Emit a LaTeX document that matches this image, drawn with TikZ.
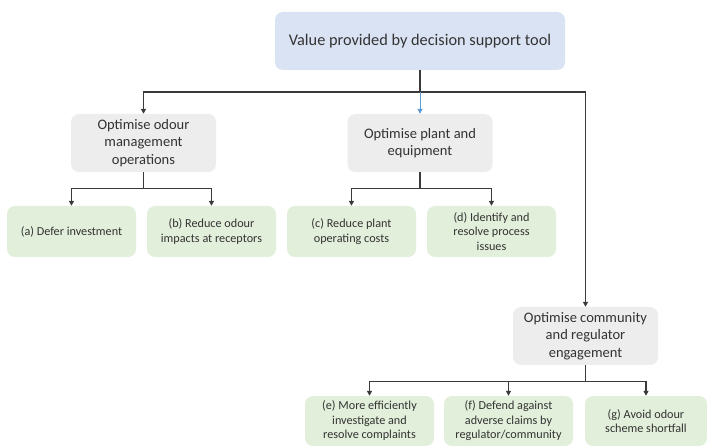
\documentclass[tikz,border=0pt]{standalone}
\usepackage{fontspec}
\setmainfont{Carlito}
\usetikzlibrary{arrows.meta,calc}
\definecolor{topblue}{HTML}{DAE3F3}
\definecolor{greybox}{HTML}{EDEDED}
\definecolor{greenbox}{HTML}{E2EFDA}
\definecolor{linec}{HTML}{3A3A3A}
\definecolor{bluearrow}{HTML}{5B9BD5}
\definecolor{txt}{HTML}{333333}
\begin{document}
\begin{tikzpicture}[x=1pt,y=-1pt,
  box/.style={rounded corners=8pt, align=center, inner sep=0pt, text=txt},
  topbox/.style={box, fill=topblue, minimum width=290pt, minimum height=58pt, font=\fontsize{16.3}{19}\selectfont},
  midbox/.style={box, fill=greybox, minimum width=145pt, minimum height=58pt, font=\fontsize{14.5}{17.5}\selectfont},
  leafbox/.style={box, fill=greenbox, minimum width=129pt, minimum height=51pt, font=\fontsize{12.2}{14.5}\selectfont},
  conn/.style={draw=linec, line width=1.3pt},
  arr/.style={conn, -{Triangle[length=5pt,width=5pt]}}]
\useasboundingbox[fill=white] (0,0) rectangle (707,446);

\node[topbox] (top) at (420,41) {Value provided by decision support tool};

\node[midbox] (od) at (143.5,143) {Optimise odour\\management\\operations};
\node[midbox] (pl) at (420,143) {Optimise plant and\\equipment};
\node[midbox] (cm) at (585.5,336) {Optimise community\\and regulator\\engagement};

\node[leafbox] (a) at (71.5,231.5) {(a) Defer investment};
\node[leafbox] (b) at (211.5,231.5) {(b) Reduce odour\\impacts at receptors};
\node[leafbox] (c) at (351.5,231.5) {(c) Reduce plant\\operating costs};
\node[leafbox] (d) at (491.5,231.5) {(d) Identify and\\resolve process\\issues};

\node[leafbox, minimum height=50pt] (e) at (369.5,421) {(e) More efficiently\\investigate and\\resolve complaints};
\node[leafbox, minimum height=50pt] (f) at (508.5,421) {(f) Defend against\\adverse claims by\\regulator/community};
\node[leafbox, minimum height=50pt, minimum width=122pt] (g) at (646,421) {(g) Avoid odour\\scheme shortfall};

% top level connectors
\coordinate (tj) at (420,92);
\draw[conn] (top.south) -- (tj);
\draw[arr] (tj) -| (od.north);
\draw[arr] (tj) -| (cm.north);
\draw[arr, draw=bluearrow, line width=1pt] (tj) -- (pl.north);

% subtrees
\draw[arr] (od.south) -- ++(0,16) -| (a.north);
\draw[arr] (od.south) -- ++(0,16) -| (b.north);
\draw[arr] (pl.south) -- ++(0,16) -| (c.north);
\draw[arr] (pl.south) -- ++(0,16) -| (d.north);
\draw[arr] (cm.south) -- ++(0,16) -| (e.north);
\draw[arr] (cm.south) -- ++(0,16) -| (f.north);
\draw[arr] (cm.south) -- ++(0,16) -| (g.north);
\end{tikzpicture}
\end{document}
